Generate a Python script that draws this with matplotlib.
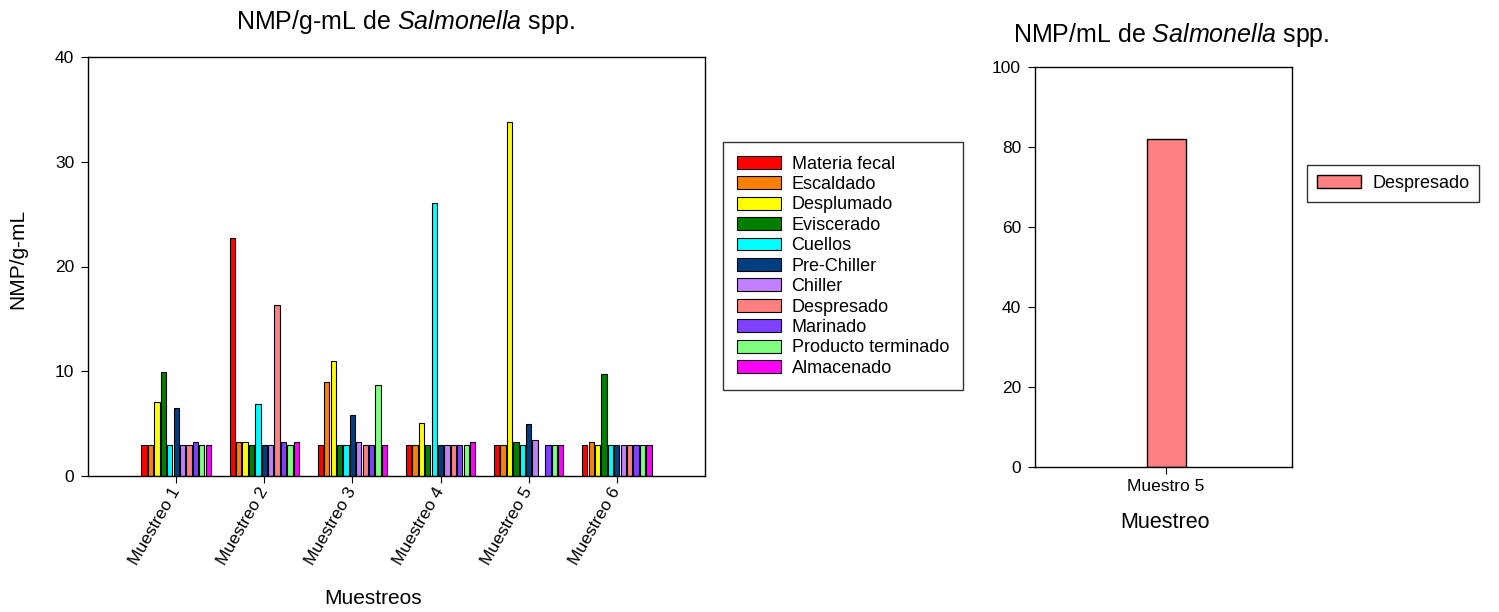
import matplotlib
matplotlib.use("Agg")
import matplotlib.pyplot as plt
import numpy as np

plt.rcParams.update(
    {
        "font.family": ["Liberation Sans", "DejaVu Sans"],
        "mathtext.fontset": "custom",
        "mathtext.rm": "Liberation Sans",
        "mathtext.it": "Liberation Sans:italic",
        "axes.linewidth": 1.0,
        "xtick.direction": "out",
        "ytick.direction": "out",
        "xtick.major.size": 5,
        "ytick.major.size": 5,
    }
)

# ── Data ─────────────────────────────────────────────────────────────────────

muestreos = ["Muestreo 1", "Muestreo 2", "Muestreo 3", "Muestreo 4", "Muestreo 5", "Muestreo 6"]

etapas = [
    "Materia fecal", "Escaldado", "Desplumado", "Eviscerado", "Cuellos",
    "Pre-Chiller", "Chiller", "Despresado", "Marinado", "Producto terminado",
    "Almacenado",
]

colores = [
    "#ff0000", "#ff8000", "#ffff00", "#008000", "#00ffff",
    "#003f7f", "#c080ff", "#ff8080", "#8040ff", "#80ff80",
    "#ff00ff",
]

# NMP/g-mL per stage, one value per muestreo (0 = no bar)
materia_fecal = [3.0, 22.7, 3.0, 3.0, 3.0, 3.0]
escaldado = [3.0, 3.2, 9.0, 3.0, 3.0, 3.2]
desplumado = [7.1, 3.2, 11.0, 5.1, 33.8, 3.0]
eviscerado = [9.9, 3.0, 3.0, 3.0, 3.2, 9.7]
cuellos = [3.0, 6.9, 3.0, 26.1, 3.0, 3.0]
pre_chiller = [6.5, 3.0, 5.8, 3.0, 5.0, 3.0]
chiller = [3.0, 3.0, 3.2, 3.0, 3.4, 3.0]
despresado = [3.0, 16.3, 3.0, 3.0, 0.0, 3.0]
marinado = [3.2, 3.2, 3.0, 3.0, 3.0, 3.0]
producto_terminado = [3.0, 3.0, 8.7, 3.0, 3.0, 3.0]
almacenado = [3.0, 3.2, 3.0, 3.2, 3.0, 3.0]

series = [
    materia_fecal, escaldado, desplumado, eviscerado, cuellos, pre_chiller,
    chiller, despresado, marinado, producto_terminado, almacenado,
]

# Right panel
muestreo_despresado = ["Muestro 5"]
despresado_ml = [82.0]

# ── Figure ───────────────────────────────────────────────────────────────────

W, H = 1499, 612
fig = plt.figure(figsize=(W / 100, H / 100), dpi=100)


def px_axes(x0, y0, x1, y1):
    return fig.add_axes([x0 / W, 1 - y1 / H, (x1 - x0) / W, (y1 - y0) / H])


# Left panel
ax = px_axes(88, 57, 705, 476)
x = np.arange(1, len(muestreos) + 1)
slot = 0.8 / len(series)
for i, (vals, color, label) in enumerate(zip(series, colores, etapas)):
    offs = -0.4 + slot * (i + 0.5)
    vals = np.array(vals)
    mask = vals > 0
    ax.bar(
        x[mask] + offs, vals[mask], width=slot * 0.82, color=color,
        edgecolor="black", linewidth=0.8, label=label,
    )

ax.set_xlim(0, 7)
ax.set_ylim(0, 40)
ax.set_yticks([0, 10, 20, 30, 40])
ax.set_xticks(x)
ax.set_xticklabels(muestreos, rotation=60, ha="right", va="center",
                   rotation_mode="anchor", fontsize=12.5)
ax.tick_params(axis="x", pad=4)
ax.tick_params(axis="y", labelsize=12.5, pad=5)
ax.set_xlabel("Muestreos", fontsize=15)
ax.xaxis.set_label_coords((373 - 88) / 617, (476 - 598) / 419)
ax.xaxis.label.set_va("center")
ax.set_ylabel("NMP/g-mL", fontsize=15)
ax.yaxis.set_label_coords((18 - 88) / 617, (476 - 259) / 419)
ax.yaxis.label.set_va("center")

fig.text(405 / W, 1 - 22 / H, r"NMP/g-mL de $\mathit{Salmonella}$ spp.",
         ha="center", va="center", fontsize=18)

leg = fig.legend(
    *ax.get_legend_handles_labels(),
    loc="upper left", bbox_to_anchor=(723 / W, 1 - 142 / H),
    fontsize=13, frameon=True, fancybox=False, edgecolor="black",
    handlelength=2.45, handleheight=0.72, handletextpad=0.6,
    labelspacing=0.19, borderpad=0.75, borderaxespad=0,
)
leg.get_frame().set_linewidth(1.0)

# Right panel
ax2 = px_axes(1035, 67, 1292, 466.7)
ax2.bar([0], despresado_ml, width=0.152, color="#ff8080",
        edgecolor="black", linewidth=1.0, label="Despresado")
ax2.set_xlim(-0.51, 0.49)
ax2.set_ylim(0, 100)
ax2.set_yticks([0, 20, 40, 60, 80, 100])
ax2.set_xticks([0])
ax2.set_xticklabels(muestreo_despresado, fontsize=12.5)
ax2.tick_params(axis="y", labelsize=12.5, pad=5)
ax2.set_xlabel("Muestreo", fontsize=15.5)
ax2.xaxis.set_label_coords((1165.5 - 1035) / 257, (466.7 - 522.7) / 399.7)
ax2.xaxis.label.set_va("center")

fig.text(1171 / W, 1 - 35 / H, r"NMP/mL de $\mathit{Salmonella}$ spp.",
         ha="center", va="center", fontsize=18)

leg2 = fig.legend(
    *ax2.get_legend_handles_labels(),
    loc="upper left", bbox_to_anchor=(1307 / W, 1 - 165 / H),
    fontsize=13, frameon=True, fancybox=False, edgecolor="black",
    handlelength=2.45, handleheight=0.72, handletextpad=0.6,
    borderpad=0.55, borderaxespad=0,
)
leg2.get_frame().set_linewidth(1.0)

fig.savefig("out.png", dpi=100)
